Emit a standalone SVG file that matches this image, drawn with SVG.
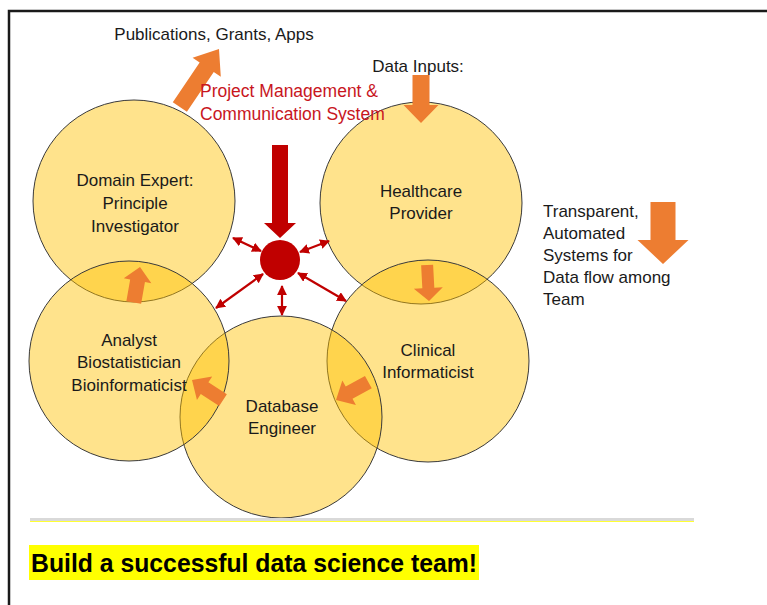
<svg xmlns="http://www.w3.org/2000/svg" width="767" height="605" viewBox="0 0 767 605">
<style>
.c{fill:#FFC000;fill-opacity:0.45;stroke:#3a3a3a;stroke-width:1}
.t{font-family:'Liberation Sans',Arial,sans-serif;font-size:17px;fill:#1a1a1a}
.m{text-anchor:middle}
.r{fill:#C00000}
.o{fill:#ED7D31}
.red{font-size:17.5px;fill:#C8161E}
.rl{stroke:#C00000;stroke-width:2.2;fill:none;marker-start:url(#ah);marker-end:url(#ah)}
</style>
<defs>
<marker id="ah" viewBox="0 0 10 10" refX="9" refY="5" markerWidth="4.5" markerHeight="4.5" orient="auto-start-reverse" markerUnits="strokeWidth">
<path d="M0,0 L10,5 L0,10 Z" fill="#C00000"/>
</marker>
</defs>
<rect width="767" height="605" fill="#fff"/>
<path d="M9,605 V11 H767" fill="none" stroke="#1a1a1a" stroke-width="2.5"/>

<g id="domain-expert">
<circle class="c" cx="134" cy="201" r="101"/>
<text class="t m" x="135" y="186">Domain Expert:</text>
<text class="t m" x="135" y="209">Principle</text>
<text class="t m" x="135" y="232">Investigator</text>
</g>
<g id="healthcare-provider">
<circle class="c" cx="421" cy="203" r="101"/>
<text class="t m" x="421" y="197">Healthcare</text>
<text class="t m" x="421" y="219">Provider</text>
</g>
<g id="clinical-informaticist">
<circle class="c" cx="428" cy="361" r="101"/>
<text class="t m" x="428" y="356">Clinical</text>
<text class="t m" x="428" y="378">Informaticist</text>
</g>
<g id="database-engineer">
<circle class="c" cx="281" cy="417" r="101"/>
<text class="t m" x="282" y="412">Database</text>
<text class="t m" x="282" y="434">Engineer</text>
</g>
<g id="analyst">
<circle class="c" cx="129" cy="361" r="100"/>
<text class="t m" x="129" y="346">Analyst</text>
<text class="t m" x="129" y="368">Biostatistician</text>
<text class="t m" x="129" y="391">Bioinformaticist</text>
</g>

<g id="hub">
<circle class="r" cx="280" cy="260" r="20"/>
<polygon class="r" points="272,145 288,145 288,223 296,223 280,238 264,223 272,223"/>
</g>

<g id="connectors">
<line class="rl" x1="261" y1="251" x2="233" y2="238"/>
<line class="rl" x1="300" y1="252" x2="329" y2="241"/>
<line class="rl" x1="263" y1="274" x2="216" y2="308"/>
<line class="rl" x1="298" y1="273" x2="346" y2="301"/>
<line class="rl" x1="282" y1="286" x2="282" y2="315"/>
<polygon class="o" transform="translate(219,49) rotate(34)" points="0,0 17,22 8.5,22 8.5,70 -8.5,70 -8.5,22 -17,22"/>
<polygon class="o" transform="translate(421,123) rotate(180)" points="0,0 17.5,18 8.5,18 8.5,48 -8.5,48 -8.5,18 -17.5,18"/>
<polygon class="o" transform="translate(663,264) rotate(180)" points="0,0 25.5,24 12.5,24 12.5,62 -12.5,62 -12.5,24 -25.5,24"/>
<polygon class="o" transform="translate(140,267) rotate(10)" points="0,0 14,14 7.5,14 7.5,36 -7.5,36 -7.5,14 -14,14"/>
<polygon class="o" transform="translate(429,301) rotate(177)" points="0,0 14.5,13 6,13 6,36 -6,36 -6,13 -14.5,13"/>
<polygon class="o" transform="translate(336,400) rotate(241)" points="0,0 14,15 7,15 7,37 -7,37 -7,15 -14,15"/>
<polygon class="o" transform="translate(192,380) rotate(-57)" points="0,0 14,15 7,15 7,37 -7,37 -7,15 -14,15"/>
</g>

<text class="t m" x="214" y="40">Publications, Grants, Apps</text>
<text class="t m" x="418" y="72">Data Inputs:</text>
<text class="t red" x="200" y="97">Project Management &amp;</text>
<text class="t red" x="200" y="120">Communication System</text>
<text class="t" x="543" y="217">Transparent,</text>
<text class="t" x="543" y="239">Automated</text>
<text class="t" x="543" y="261">Systems for</text>
<text class="t" x="543" y="283">Data flow among</text>
<text class="t" x="543" y="305">Team</text>

<line x1="30" y1="519.5" x2="694" y2="519.5" stroke="#D9D9D9" stroke-width="3"/>
<line x1="30" y1="521.5" x2="694" y2="521.5" stroke="#FFFF00" stroke-width="0.8"/>
<rect x="29" y="545" width="450" height="35" fill="#FFFF00"/>
<text x="31" y="572" font-family="'Liberation Sans',Arial,sans-serif" font-size="25" font-weight="bold" fill="#000" textLength="446" lengthAdjust="spacingAndGlyphs">Build a successful data science team!</text>
</svg>
